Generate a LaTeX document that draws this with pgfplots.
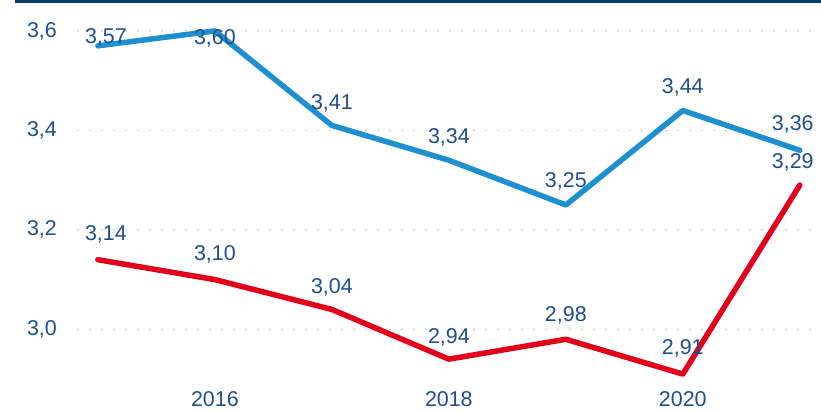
\documentclass[border=0pt]{standalone}
\usepackage{pgfplots}
\pgfplotsset{compat=1.18}
\usepackage{fontspec}
\setmainfont{Liberation Sans}
\definecolor{navy}{HTML}{1F4E8C}
\definecolor{barnavy}{HTML}{0B3A6E}
\definecolor{lblue}{HTML}{1E90D0}
\definecolor{lred}{HTML}{E2001A}
\newcommand{\lblfont}{\fontsize{21.5}{24}\selectfont}
\begin{document}
\begin{tikzpicture}[x=1bp,y=1bp]
\path[use as bounding box] (-78,-22) rectangle (743,389);
\fill[barnavy] (-63,386) rectangle (743,389.5);
\begin{axis}[
  at={(0,0)}, anchor=south west,
  scale only axis, width=737bp, height=373bp,
  xmin=2014.83, xmax=2021.13, ymin=2.88, ymax=3.63,
  clip=false,
  axis line style={draw=none},
  tick style={draw=none},
  xtick={2016,2018,2020}, xticklabels={2016,2018,2020},
  ytick={3.0,3.2,3.4,3.6}, yticklabels={{3,0},{3,2},{3,4},{3,6}},
  ymajorgrids,
  major grid style={gray!45, line width=2bp, dash pattern=on 0bp off 12bp, line cap=round},
  ticklabel style={font=\lblfont, text=navy, inner sep=0pt},
  xticklabel style={anchor=north, yshift=-2.5bp},
  yticklabel style={anchor=east, xshift=-21bp},
  nodes near coords,
  point meta=explicit symbolic,
  visualization depends on={\thisrow{dx}\as\dx},
  visualization depends on={\thisrow{dy}\as\dy},
  every node near coord/.append style={anchor=center, font=\lblfont, text=navy, inner sep=0pt, xshift=\dx bp, yshift=\dy bp},
]
\addplot[lblue, line width=5.5bp, line join=round, line cap=round] table[x=x, y=y, meta=lab] {
x y lab dx dy
2015 3.57 3,57 8 8
2016 3.60 3,60 0 -7
2017 3.41 3,41 0 22
2018 3.34 3,34 0 23
2019 3.25 3,25 0 24
2020 3.44 3,44 0 23
2021 3.36 3,36 -7 26
};
\addplot[lred, line width=5.5bp, line join=round, line cap=round] table[x=x, y=y, meta=lab] {
x y lab dx dy
2015 3.14 3,14 8 25
2016 3.10 3,10 0 25
2017 3.04 3,04 0 22
2018 2.94 2,94 0 22
2019 2.98 2,98 0 24
2020 2.91 2,91 0 26
2021 3.29 3,29 -7 23
};
\end{axis}
\end{tikzpicture}
\end{document}
